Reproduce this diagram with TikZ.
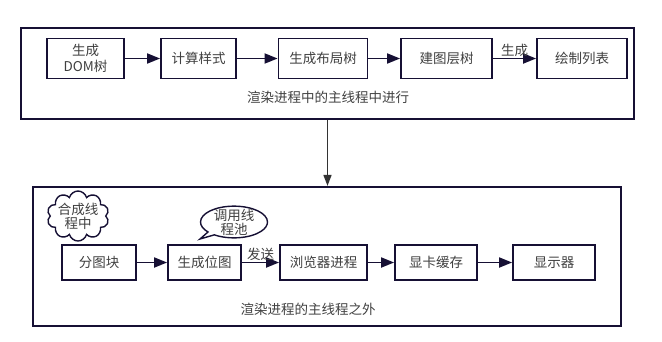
\documentclass[tikz,border=0pt]{standalone}
\usepackage{fontspec}
\setmainfont{Noto Sans CJK SC}
\usepackage{tikz}
\usetikzlibrary{arrows.meta, shapes.symbols, shapes.callouts}
\usepackage{xcolor}
\definecolor{lineDark}{RGB}{22, 16, 52}
\definecolor{textGray}{RGB}{64, 64, 64}
\definecolor{linkGray}{RGB}{51, 51, 51}

\begin{document}
\begin{tikzpicture}[
  x=1pt, y=-1pt,
  every node/.style={font=\fontsize{13.5}{16}\selectfont, text=textGray, inner sep=1pt},
  frame/.style={draw=lineDark, line width=2.2pt},
  stage/.style={draw=lineDark, line width=1.8pt, fill=white, minimum height=40pt, align=center},
  flow/.style={-{Triangle[length=13pt, width=10pt]}, line width=1.8pt, lineDark},
  note/.style={draw=lineDark, line width=1.4pt, fill=white, align=center},
  >=Stealth
]
  \useasboundingbox (0,0) rectangle (662,341);

  % Frames
  \node[frame, minimum width=613pt, minimum height=91pt] (mainThread) at (327.5,73.5) {};
  \node[frame, minimum width=588pt, minimum height=139pt] (offThread) at (327,256.5) {};
  \node (mainText) at (328,97) {渲染进程中的主线程中进行};
  \node (offText) at (308,309) {渲染进程的主线程之外};

  % Main thread stages
  \node[stage, minimum width=77pt]  (dom)    at (85.5,58.5)  {生成\\DOM树};
  \node[stage, minimum width=75pt]  (style)  at (198.5,58.5) {计算样式};
  \node[stage, minimum width=89pt]  (layout) at (323,58.5)   {生成布局树};
  \node[stage, minimum width=91pt]  (layer)  at (446.5,58.5) {建图层树};
  \node[stage, minimum width=90pt]  (paint)  at (582,58.5)   {绘制列表};

  % Off main thread stages
  \node[stage, minimum width=74pt, minimum height=35pt] (tile)    at (99,262.5)  {分图块};
  \node[stage, minimum width=73pt, minimum height=35pt] (raster)  at (204.5,262.5) {生成位图};
  \node[stage, minimum width=87pt, minimum height=35pt] (browser) at (323.5,262.5) {浏览器进程};
  \node[stage, minimum width=82pt, minimum height=35pt] (gpuMem)  at (436,262.5)  {显卡缓存};
  \node[stage, minimum width=82pt, minimum height=35pt] (screen)  at (554,262.5)  {显示器};

  % Notes
  \node[note, cloud, cloud puffs=10, aspect=1.3, minimum width=62pt, minimum height=44pt,
        inner sep=-2pt] (compositor) at (78,216) {合成线\\[-2pt]程中};
  \coordinate (poolTip) at (200,239);
  \node[note, ellipse callout, callout absolute pointer=(poolTip), minimum width=67pt,
        minimum height=30pt, inner sep=-2pt] (pool) at (234,222) {调用线\\[-2pt]程池};

  % Flow arrows
  \draw[flow] (dom) -- (style);
  \draw[flow] (style) -- (layout);
  \draw[flow] (layout) -- (layer);
  \draw[flow] (layer) -- node[above] (genLabel) {生成} (paint);
  \draw[flow] (tile) -- (raster);
  \draw[flow] (raster) -- node[above] (sendLabel) {发送} (browser);
  \draw[flow] (browser) -- (gpuMem);
  \draw[flow] (gpuMem) -- (screen);
  % Link between frames
  \draw[-{Triangle[length=11pt, width=8pt]}, line width=1.5pt, linkGray]
    (mainThread.south) -- (mainThread.south |- offThread.north);
\end{tikzpicture}
\end{document}
